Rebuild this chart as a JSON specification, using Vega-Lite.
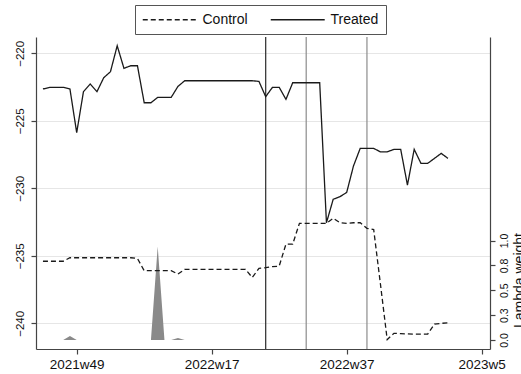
{
  "$schema": "https://vega.github.io/schema/vega-lite/v6.json",
  "autosize": "none",
  "width": 454,
  "height": 312,
  "padding": {"left": 36, "top": 37, "right": 31, "bottom": 25},
  "background": "white",
  "config": {
    "view": {"stroke": null},
    "font": "Liberation Sans",
    "axis": {
      "labelFont": "Liberation Sans",
      "titleFont": "Liberation Sans",
      "labelColor": "#111",
      "titleColor": "#111",
      "domainColor": "#444",
      "domainWidth": 1.2,
      "tickColor": "#444",
      "tickWidth": 1.2,
      "tickSize": 5,
      "grid": false
    }
  },
  "datasets": {
    "series": [
      {"week": 3215, "group": "Treated", "value": -222.64},
      {"week": 3216, "group": "Treated", "value": -222.52},
      {"week": 3217, "group": "Treated", "value": -222.52},
      {"week": 3218, "group": "Treated", "value": -222.52},
      {"week": 3219, "group": "Treated", "value": -222.64},
      {"week": 3220, "group": "Treated", "value": -225.88},
      {"week": 3221, "group": "Treated", "value": -222.84},
      {"week": 3222, "group": "Treated", "value": -222.27},
      {"week": 3223, "group": "Treated", "value": -222.84},
      {"week": 3224, "group": "Treated", "value": -221.81},
      {"week": 3225, "group": "Treated", "value": -221.36},
      {"week": 3226, "group": "Treated", "value": -219.44},
      {"week": 3227, "group": "Treated", "value": -221.11},
      {"week": 3228, "group": "Treated", "value": -220.92},
      {"week": 3229, "group": "Treated", "value": -220.92},
      {"week": 3230, "group": "Treated", "value": -223.66},
      {"week": 3231, "group": "Treated", "value": -223.66},
      {"week": 3232, "group": "Treated", "value": -223.26},
      {"week": 3233, "group": "Treated", "value": -223.26},
      {"week": 3234, "group": "Treated", "value": -223.26},
      {"week": 3235, "group": "Treated", "value": -222.45},
      {"week": 3236, "group": "Treated", "value": -222.03},
      {"week": 3237, "group": "Treated", "value": -222.03},
      {"week": 3238, "group": "Treated", "value": -222.03},
      {"week": 3239, "group": "Treated", "value": -222.03},
      {"week": 3240, "group": "Treated", "value": -222.03},
      {"week": 3241, "group": "Treated", "value": -222.03},
      {"week": 3242, "group": "Treated", "value": -222.03},
      {"week": 3243, "group": "Treated", "value": -222.03},
      {"week": 3244, "group": "Treated", "value": -222.03},
      {"week": 3245, "group": "Treated", "value": -222.03},
      {"week": 3246, "group": "Treated", "value": -222.03},
      {"week": 3247, "group": "Treated", "value": -222.08},
      {"week": 3248, "group": "Treated", "value": -223.21},
      {"week": 3249, "group": "Treated", "value": -222.52},
      {"week": 3250, "group": "Treated", "value": -222.52},
      {"week": 3251, "group": "Treated", "value": -223.41},
      {"week": 3252, "group": "Treated", "value": -222.18},
      {"week": 3253, "group": "Treated", "value": -222.18},
      {"week": 3254, "group": "Treated", "value": -222.18},
      {"week": 3255, "group": "Treated", "value": -222.18},
      {"week": 3256, "group": "Treated", "value": -222.18},
      {"week": 3257, "group": "Treated", "value": -232.55},
      {"week": 3258, "group": "Treated", "value": -230.81},
      {"week": 3259, "group": "Treated", "value": -230.62},
      {"week": 3260, "group": "Treated", "value": -230.30},
      {"week": 3261, "group": "Treated", "value": -228.35},
      {"week": 3262, "group": "Treated", "value": -227.04},
      {"week": 3263, "group": "Treated", "value": -227.04},
      {"week": 3264, "group": "Treated", "value": -227.04},
      {"week": 3265, "group": "Treated", "value": -227.30},
      {"week": 3266, "group": "Treated", "value": -227.30},
      {"week": 3267, "group": "Treated", "value": -227.11},
      {"week": 3268, "group": "Treated", "value": -227.11},
      {"week": 3269, "group": "Treated", "value": -229.76},
      {"week": 3270, "group": "Treated", "value": -227.11},
      {"week": 3271, "group": "Treated", "value": -228.15},
      {"week": 3272, "group": "Treated", "value": -228.15},
      {"week": 3273, "group": "Treated", "value": -227.78},
      {"week": 3274, "group": "Treated", "value": -227.41},
      {"week": 3275, "group": "Treated", "value": -227.78},
      {"week": 3215, "group": "Control", "value": -235.40},
      {"week": 3216, "group": "Control", "value": -235.40},
      {"week": 3217, "group": "Control", "value": -235.40},
      {"week": 3218, "group": "Control", "value": -235.40},
      {"week": 3219, "group": "Control", "value": -235.14},
      {"week": 3220, "group": "Control", "value": -235.14},
      {"week": 3221, "group": "Control", "value": -235.14},
      {"week": 3222, "group": "Control", "value": -235.14},
      {"week": 3223, "group": "Control", "value": -235.14},
      {"week": 3224, "group": "Control", "value": -235.14},
      {"week": 3225, "group": "Control", "value": -235.14},
      {"week": 3226, "group": "Control", "value": -235.14},
      {"week": 3227, "group": "Control", "value": -235.14},
      {"week": 3228, "group": "Control", "value": -235.14},
      {"week": 3229, "group": "Control", "value": -235.19},
      {"week": 3230, "group": "Control", "value": -236.10},
      {"week": 3231, "group": "Control", "value": -236.10},
      {"week": 3232, "group": "Control", "value": -236.10},
      {"week": 3233, "group": "Control", "value": -236.10},
      {"week": 3234, "group": "Control", "value": -236.10},
      {"week": 3235, "group": "Control", "value": -236.35},
      {"week": 3236, "group": "Control", "value": -236.00},
      {"week": 3237, "group": "Control", "value": -236.00},
      {"week": 3238, "group": "Control", "value": -236.00},
      {"week": 3239, "group": "Control", "value": -236.00},
      {"week": 3240, "group": "Control", "value": -236.00},
      {"week": 3241, "group": "Control", "value": -236.00},
      {"week": 3242, "group": "Control", "value": -236.00},
      {"week": 3243, "group": "Control", "value": -236.00},
      {"week": 3244, "group": "Control", "value": -236.00},
      {"week": 3245, "group": "Control", "value": -236.00},
      {"week": 3246, "group": "Control", "value": -236.60},
      {"week": 3247, "group": "Control", "value": -235.93},
      {"week": 3248, "group": "Control", "value": -235.88},
      {"week": 3249, "group": "Control", "value": -235.80},
      {"week": 3250, "group": "Control", "value": -235.76},
      {"week": 3251, "group": "Control", "value": -234.13},
      {"week": 3252, "group": "Control", "value": -234.13},
      {"week": 3253, "group": "Control", "value": -232.59},
      {"week": 3254, "group": "Control", "value": -232.59},
      {"week": 3255, "group": "Control", "value": -232.59},
      {"week": 3256, "group": "Control", "value": -232.59},
      {"week": 3257, "group": "Control", "value": -232.59},
      {"week": 3258, "group": "Control", "value": -232.22},
      {"week": 3259, "group": "Control", "value": -232.55},
      {"week": 3260, "group": "Control", "value": -232.59},
      {"week": 3261, "group": "Control", "value": -232.55},
      {"week": 3262, "group": "Control", "value": -232.55},
      {"week": 3263, "group": "Control", "value": -232.96},
      {"week": 3264, "group": "Control", "value": -233.06},
      {"week": 3265, "group": "Control", "value": -237.10},
      {"week": 3266, "group": "Control", "value": -241.20},
      {"week": 3267, "group": "Control", "value": -240.74},
      {"week": 3268, "group": "Control", "value": -240.76},
      {"week": 3269, "group": "Control", "value": -240.78},
      {"week": 3270, "group": "Control", "value": -240.80},
      {"week": 3271, "group": "Control", "value": -240.80},
      {"week": 3272, "group": "Control", "value": -240.80},
      {"week": 3273, "group": "Control", "value": -240.05},
      {"week": 3274, "group": "Control", "value": -240.00},
      {"week": 3275, "group": "Control", "value": -239.96}
    ],
    "lambda": [
      {"week": 3215, "weight": 0}, {"week": 3216, "weight": 0}, {"week": 3217, "weight": 0},
      {"week": 3218, "weight": 0}, {"week": 3219, "weight": 0.04}, {"week": 3220, "weight": 0},
      {"week": 3221, "weight": 0}, {"week": 3222, "weight": 0}, {"week": 3223, "weight": 0},
      {"week": 3224, "weight": 0}, {"week": 3225, "weight": 0}, {"week": 3226, "weight": 0},
      {"week": 3227, "weight": 0}, {"week": 3228, "weight": 0}, {"week": 3229, "weight": 0},
      {"week": 3230, "weight": 0}, {"week": 3231, "weight": 0}, {"week": 3232, "weight": 0.94},
      {"week": 3233, "weight": 0}, {"week": 3234, "weight": 0}, {"week": 3235, "weight": 0.02},
      {"week": 3236, "weight": 0}, {"week": 3237, "weight": 0}, {"week": 3238, "weight": 0},
      {"week": 3239, "weight": 0}, {"week": 3240, "weight": 0}, {"week": 3241, "weight": 0},
      {"week": 3242, "weight": 0}, {"week": 3243, "weight": 0}, {"week": 3244, "weight": 0},
      {"week": 3245, "weight": 0}, {"week": 3246, "weight": 0}, {"week": 3247, "weight": 0}
    ],
    "adoption": [
      {"week": 3248, "cohort": "first"},
      {"week": 3254, "cohort": "later"},
      {"week": 3263, "cohort": "later"}
    ]
  },
  "resolve": {"scale": {"y": "independent"}},
  "layer": [
    {
      "data": {"name": "adoption"},
      "mark": {"type": "rule", "strokeWidth": 1.2},
      "encoding": {
        "x": {
          "field": "week", "type": "quantitative",
          "scale": {"domain": [3213.97, 3281.23], "nice": false, "zero": false},
          "axis": {
            "values": [3220, 3240, 3260, 3280],
            "labelExpr": "(1960 + floor(datum.value / 52)) + 'w' + (datum.value % 52 + 1)",
            "labelFontSize": 13.5,
            "labelPadding": 3,
            "title": null
          }
        },
        "color": {
          "field": "cohort", "type": "nominal",
          "scale": {"domain": ["first", "later"], "range": ["#2a2a2a", "#8c8c8c"]},
          "legend": null
        }
      }
    },
    {
      "data": {"name": "lambda"},
      "mark": {"type": "area", "color": "#8a8a8a", "interpolate": "linear"},
      "encoding": {
        "x": {
          "field": "week", "type": "quantitative",
          "scale": {"domain": [3213.97, 3281.23], "nice": false, "zero": false},
          "axis": {
            "values": [3220, 3240, 3260, 3280],
            "labelExpr": "(1960 + floor(datum.value / 52)) + 'w' + (datum.value % 52 + 1)",
            "labelFontSize": 13.5,
            "labelPadding": 3,
            "title": null
          }
        },
        "y": {
          "field": "weight", "type": "quantitative",
          "scale": {"domain": [-0.09, 3.045], "nice": false, "zero": false},
          "axis": {
            "orient": "right",
            "values": [0, 0.25, 0.5, 0.75, 1],
            "format": ".1f",
            "labelAngle": -90,
            "labelAlign": "center",
            "labelBaseline": "top",
            "labelFontSize": 10.5,
            "labelPadding": 4,
            "title": "Lambda weight",
            "titleFontSize": 14,
            "titleFontWeight": "normal",
            "titleAngle": -90,
            "titleAlign": "center",
            "titleBaseline": "top",
            "titleX": 22,
            "titleY": 243
          }
        }
      }
    },
    {
      "data": {"name": "series"},
      "mark": {"type": "line", "color": "#1a1a1a", "strokeWidth": 1.3},
      "encoding": {
        "x": {
          "field": "week", "type": "quantitative",
          "scale": {"domain": [3213.97, 3281.23], "nice": false, "zero": false},
          "axis": {
            "values": [3220, 3240, 3260, 3280],
            "labelExpr": "(1960 + floor(datum.value / 52)) + 'w' + (datum.value % 52 + 1)",
            "labelFontSize": 13.5,
            "labelPadding": 3,
            "title": null
          }
        },
        "y": {
          "field": "value", "type": "quantitative",
          "scale": {"domain": [-241.9, -218.79], "nice": false, "zero": false},
          "axis": {
            "orient": "left",
            "values": [-240, -235, -230, -225, -220],
            "grid": true,
            "gridColor": "#e6e6e6",
            "gridWidth": 1.2,
            "labelAngle": -90,
            "labelAlign": "center",
            "labelBaseline": "bottom",
            "labelFontSize": 11.5,
            "labelPadding": 6,
            "title": null
          }
        },
        "strokeDash": {
          "field": "group", "type": "nominal",
          "scale": {"domain": ["Control", "Treated"], "range": [[5, 3], [1, 0]]},
          "legend": {
            "title": null,
            "orient": "none",
            "legendX": 99,
            "legendY": -32,
            "direction": "horizontal",
            "symbolType": "M-1,0H7",
            "symbolSize": 182,
            "symbolStrokeWidth": 1.3,
            "symbolStrokeColor": "#1a1a1a",
            "labelFontSize": 14,
            "labelColor": "#111",
            "labelOffset": 45.5,
            "columnPadding": 20,
            "padding": 7,
            "strokeColor": "#555",
            "fillColor": "white"
          }
        }
      }
    }
  ]
}
